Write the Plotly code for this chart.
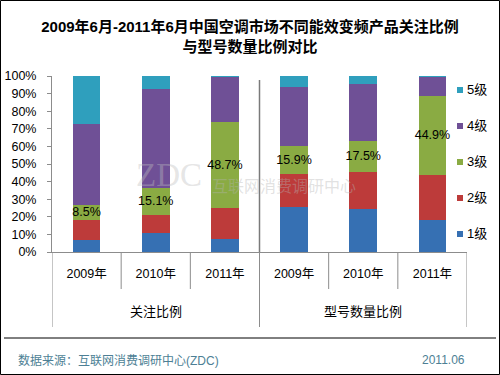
import plotly.graph_objects as go

# ---- data ----
groups = ["关注比例", "型号数量比例"]
years = ["2009年", "2010年", "2011年", "2009年", "2010年", "2011年"]
levels = ["1级", "2级", "3级", "4级", "5级"]
lv1 = [7.0, 11.0, 7.6, 25.3, 24.6, 18.4]
lv2 = [11.4, 10.2, 17.6, 19.2, 21.0, 25.5]
lv3 = [8.5, 15.1, 48.7, 15.9, 17.5, 44.9]
lv4 = [46.0, 56.3, 25.7, 33.5, 32.5, 10.8]
lv5 = [27.1, 7.4, 0.4, 6.1, 4.4, 0.4]
series = [lv1, lv2, lv3, lv4, lv5]
colors = ["#3670b3", "#bd3b3a", "#8aab43", "#6f5096", "#2f9fbd"]
title_text = "2009年6月-2011年6月中国空调市场不同能效变频产品关注比例<br>与型号数量比例对比"
source_text = "数据来源：互联网消费调研中心(ZDC)"
date_text = "2011.06"
watermark_logo = "ZDC"
watermark_text = "互联网消费调研中心"

FONT = "Liberation Sans, Arial, Noto Sans CJK SC, sans-serif"
W, H = 500, 375
L, R, T, B = 52, 33, 76, 123
PW, PH = W - L - R, H - T - B


def px2x(px):
    return (px - L) / PW


def px2y(py):
    return (H - B - py) / PH


xs = list(range(len(years)))

fig = go.Figure()
for name, vals, col in zip(levels, series, colors):
    kw = {}
    if name == "3级":
        kw = dict(text=[f"{v}%" for v in vals], textposition="inside", textangle=0,
                  insidetextanchor="middle", constraintext="none", cliponaxis=False,
                  textfont=dict(color="black", size=12.5, family=FONT))
    fig.add_trace(go.Bar(x=xs, y=vals, name=name, marker=dict(color=col, line=dict(width=0)),
                         width=0.4, showlegend=False, hoverinfo="skip", **kw))

shapes = []
# outer border
shapes.append(dict(type="rect", xref="paper", yref="paper", x0=px2x(0.5), x1=px2x(499.5),
                   y0=px2y(0.5), y1=px2y(374.5), line=dict(color="black", width=1), layer="above"))
# footer line
shapes.append(dict(type="line", xref="paper", yref="paper", x0=px2x(4), x1=px2x(496),
                   y0=px2y(338), y1=px2y(338), line=dict(color="black", width=1), layer="above"))
# separator inside plot
shapes.append(dict(type="line", xref="x", yref="paper", x0=2.5, x1=2.5, y0=0, y1=px2y(80),
                   line=dict(color="#7a7a7a", width=1.5)))
# category boundary lines
for b in [i - 0.5 for i in range(len(years) + 1)]:
    outer = (b + 0.5) % 3 == 0
    shapes.append(dict(type="line", xref="x", yref="paper", x0=b, x1=b, y0=0,
                       y1=px2y(327 if outer else 289), line=dict(color="#8c8c8c", width=1)))

annotations = []
# watermark (faint)
annotations.append(dict(text=watermark_logo, xref="paper", yref="paper", x=px2x(134), y=px2y(175),
                        xanchor="left", yanchor="middle", showarrow=False,
                        font=dict(size=33, color="rgba(190,190,190,0.4)", family="Liberation Serif, serif")))
annotations.append(dict(text=watermark_text, xref="paper", yref="paper", x=px2x(210), y=px2y(185),
                        xanchor="left", yanchor="middle", showarrow=False,
                        font=dict(size=16, color="rgba(180,180,180,0.4)", family="Noto Sans CJK SC")))
for gi, g in enumerate(groups):
    annotations.append(dict(text=g, x=gi * 3 + 1, xref="x", y=px2y(311), yref="paper",
                            showarrow=False, font=dict(size=13, color="black", family=FONT),
                            xanchor="center", yanchor="middle"))
# legend (manual)
for i, (name, col) in enumerate(zip(levels, colors)):
    cy = 233 - 36 * i
    shapes.append(dict(type="rect", xref="paper", yref="paper", x0=px2x(457), x1=px2x(463),
                       y0=px2y(cy + 4), y1=px2y(cy - 2), fillcolor=col, line=dict(width=0)))
    annotations.append(dict(text=name, xref="paper", yref="paper", x=px2x(465), y=px2y(cy),
                            xanchor="left", yanchor="middle", showarrow=False,
                            font=dict(size=13, color="black", family=FONT)))
# footer
annotations.append(dict(text=source_text, xref="paper", yref="paper", x=px2x(16), y=px2y(360),
                        xanchor="left", yanchor="middle", showarrow=False,
                        font=dict(size=12, color="#4d7f95", family=FONT)))
annotations.append(dict(text=date_text, xref="paper", yref="paper", x=px2x(467), y=px2y(360),
                        xanchor="right", yanchor="middle", showarrow=False,
                        font=dict(size=12, color="#4d7f95", family=FONT)))

fig.update_layout(
    template="none",
    width=W, height=H, barmode="stack",
    margin=dict(l=L, r=R, t=T, b=B, pad=0, autoexpand=False),
    paper_bgcolor="white", plot_bgcolor="white",
    font=dict(family=FONT, color="black"),
    title=dict(text="<b>" + title_text + "</b>", x=0.5, xanchor="center", xref="container",
               y=1 - 32 / H, yanchor="middle", yref="container",
               font=dict(size=15, color="black", family=FONT)),
    showlegend=False,
    xaxis=dict(range=[-0.5, len(years) - 0.5], tickvals=xs, ticktext=years, showgrid=False,
               zeroline=False, showline=True, linecolor="#8c8c8c", linewidth=1, ticks="",
               automargin=False,
               ticklabelstandoff=10, tickfont=dict(size=12.5, color="black", family=FONT),
               fixedrange=True),
    yaxis=dict(range=[0, 100], dtick=10, ticksuffix="%", showgrid=False, zeroline=False,
               showline=True, linecolor="#8c8c8c", linewidth=1, ticks="outside", ticklen=4,
               automargin=False,
               tickcolor="#8c8c8c", tickfont=dict(size=12.5, color="black", family=FONT),
               ticklabelstandoff=8, fixedrange=True),
    shapes=shapes, annotations=annotations,
)

fig.write_html("out.html", config={"displayModeBar": False},
               post_script="document.body.style.margin='0';document.body.style.padding='0';")
